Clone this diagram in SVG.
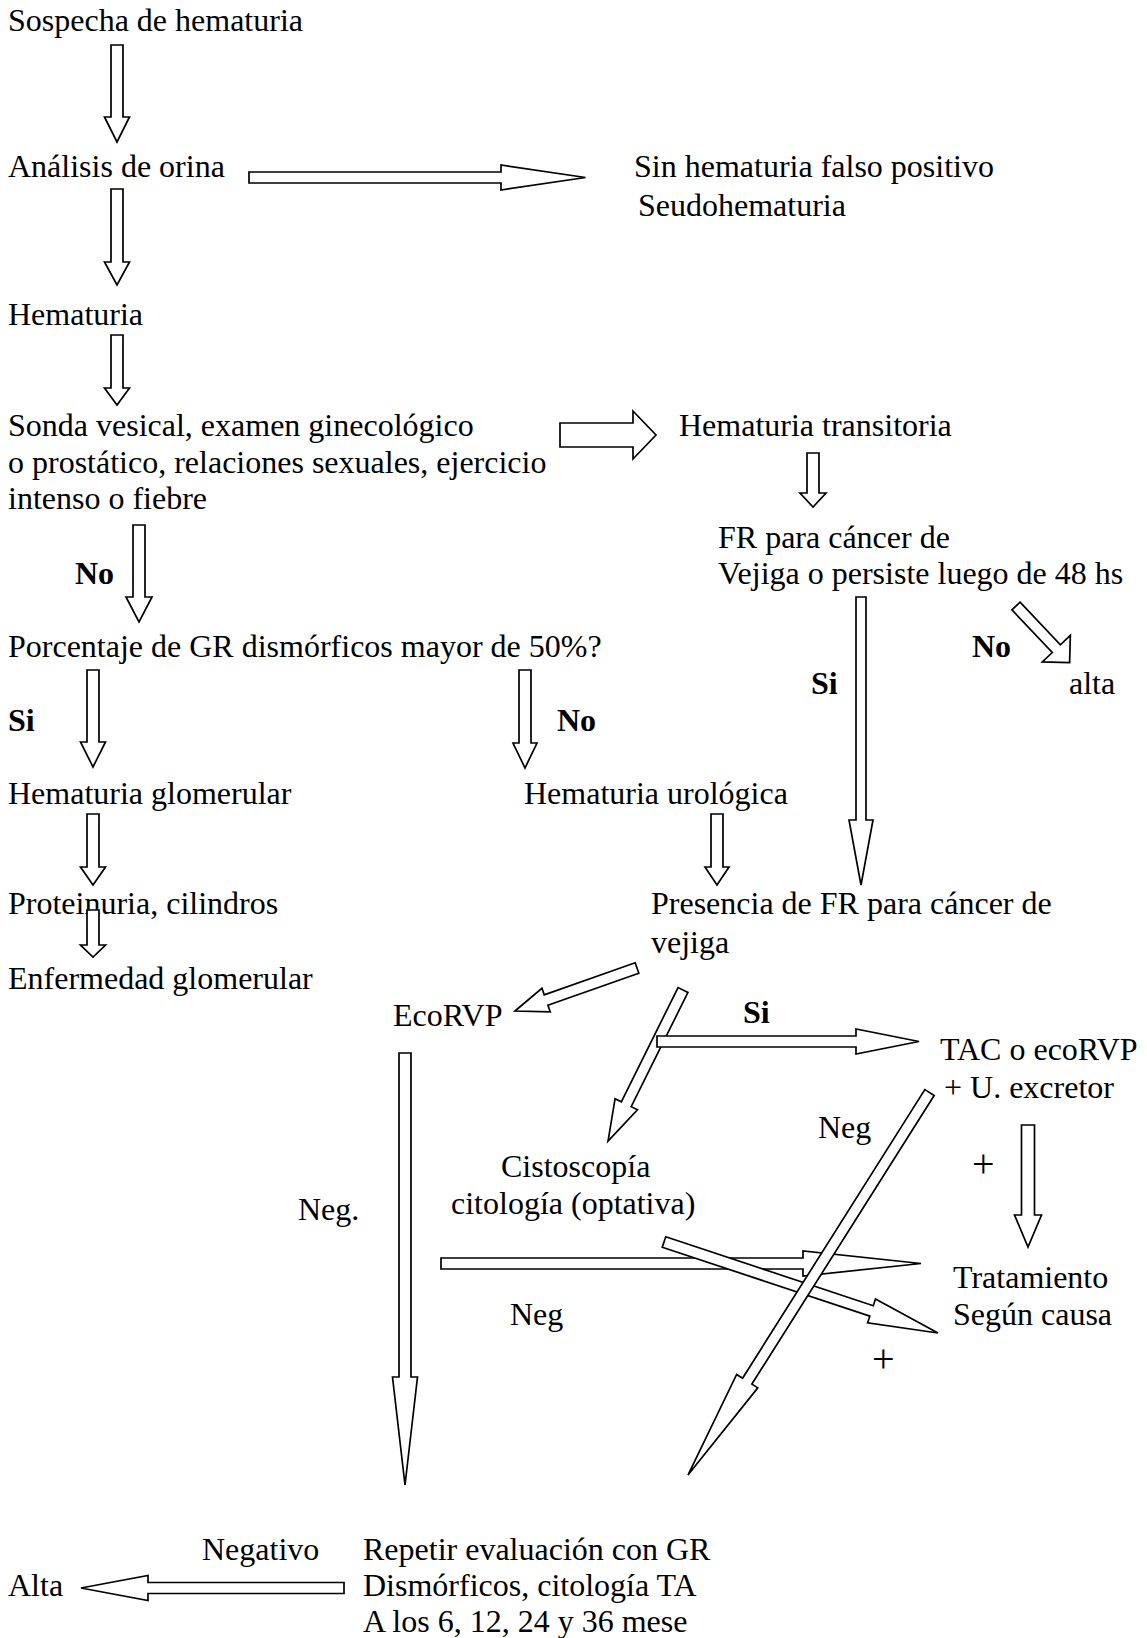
<svg xmlns="http://www.w3.org/2000/svg" width="1147" height="1638" viewBox="0 0 1147 1638">
<style>
text{font-family:"Liberation Serif","Times New Roman",serif;font-size:32px;fill:#000}
.b{font-weight:bold}
.p{font-size:40px}
.ar{fill:#fff;stroke:#000;stroke-width:1.7;stroke-linejoin:miter}
</style>
<rect width="1147" height="1638" fill="#fff"/>
<g id="nodes">
<g id="n-sospecha"><text x="8" y="31">Sospecha de hematuria</text></g>
<g id="n-analisis"><text x="8" y="177">Análisis de orina</text></g>
<g id="n-sin"><text x="634" y="177">Sin hematuria falso positivo</text><text x="638" y="216">Seudohematuria</text></g>
<g id="n-hematuria"><text x="8" y="325">Hematuria</text></g>
<g id="n-sonda"><text x="8" y="436">Sonda vesical, examen ginecológico</text><text x="8" y="473">o prostático, relaciones sexuales, ejercicio</text><text x="8" y="509">intenso o fiebre</text></g>
<g id="n-transitoria"><text x="679" y="436">Hematuria transitoria</text></g>
<g id="n-fr"><text x="718" y="548">FR para cáncer de</text><text x="718" y="584">Vejiga o persiste luego de 48 hs</text></g>
<g id="n-alta1"><text x="1069" y="694">alta</text></g>
<g id="n-porcentaje"><text x="8" y="657">Porcentaje de GR dismórficos mayor de 50%?</text></g>
<g id="n-glomerular"><text x="8" y="804">Hematuria glomerular</text></g>
<g id="n-urologica"><text x="524" y="804">Hematuria urológica</text></g>
<g id="n-proteinuria"><text x="8" y="914">Proteinuria, cilindros</text></g>
<g id="n-presencia"><text x="651" y="914">Presencia de FR para cáncer de</text><text x="651" y="953">vejiga</text></g>
<g id="n-enfermedad"><text x="8" y="989">Enfermedad glomerular</text></g>
<g id="n-ecorvp"><text x="393" y="1026">EcoRVP</text></g>
<g id="n-tac"><text x="940" y="1060">TAC o ecoRVP</text><text x="944" y="1098">+ U. excretor</text></g>
<g id="n-cisto"><text x="501" y="1177">Cistoscopía</text><text x="451" y="1214">citología (optativa)</text></g>
<g id="n-tratamiento"><text x="953" y="1288">Tratamiento</text><text x="953" y="1325">Según causa</text></g>
<g id="n-repetir"><text x="363" y="1560">Repetir evaluación con GR</text><text x="363" y="1596">Dismórficos, citología TA</text><text x="363" y="1632">A los 6, 12, 24 y 36 mese</text></g>
<g id="n-alta2"><text x="8" y="1596">Alta</text></g>
</g>
<g id="connectors">
<polygon class="ar" points="111,45 123,45 123,117 129.5,117 117,142 104.5,117 111,117"/>
<polygon class="ar" points="111,189 123,189 123,262 129.5,262 117,285 104.5,262 111,262"/>
<polygon class="ar" points="111,335 123,335 123,388 129.5,388 117,405 104.5,388 111,388"/>
<polygon class="ar" points="249,172 501,172 501,165 585.5,177.5 501,190 501,183 249,183"/>
<polygon class="ar" points="560,423 633,423 633,411 656,435 633,459 633,447 560,447"/>
<polygon class="ar" points="807,453 819,453 819,493 826,493 813,507 800,493 807,493"/>
<polygon class="ar" points="133,525 145,525 145,597 152,597 139,622 126,597 133,597"/>
<polygon class="ar" points="856,597 866,597 866,820 873,820 861,885 849,820 856,820"/>
<polygon class="ar" transform="translate(1016,606) rotate(46.6)" points="0,-5.6 58.7,-5.6 58.7,-19.3 78,0 58.7,19.3 58.7,5.6 0,5.6"/>
<polygon class="ar" points="87,670 99,670 99,742 105.5,742 93,767 80.5,742 87,742"/>
<polygon class="ar" points="519,670 531,670 531,743 537,743 525,768 513,743 519,743"/>
<polygon class="ar" points="87,814 99,814 99,867 105.5,867 93,885 80.5,867 87,867"/>
<polygon class="ar" points="87,910 99,910 99,945 105.5,945 93,957 80.5,945 87,945"/>
<polygon class="ar" points="711,814 723,814 723,867 729,867 717,885 705,867 711,867"/>
<polygon class="ar" transform="translate(637,968) rotate(160.58)" points="0,-5.5 96.4,-5.5 96.4,-12.5 129.4,0 96.4,12.5 96.4,5.5 0,5.5"/>
<polygon class="ar" transform="translate(683,990) rotate(116.4)" points="0,-5.5 127.6,-5.5 127.6,-12.5 168.6,0 127.6,12.5 127.6,5.5 0,5.5"/>
<polygon class="ar" points="657,1036 856,1036 856,1029 919,1041.5 856,1054 856,1047 657,1047"/>
<polygon class="ar" points="1021.5,1125 1034.5,1125 1034.5,1215 1041.5,1215 1028,1247 1014.5,1215 1021.5,1215"/>
<polygon class="ar" points="399,1053 411,1053 411,1377 417.5,1377 405,1485 392.5,1377 399,1377"/>
<polygon class="ar" points="441,1258 803,1258 803,1251 921,1263.5 803,1276 803,1269 441,1269"/>
<polygon class="ar" transform="translate(664,1242) rotate(18.37)" points="0,-5.5 218.7,-5.5 218.7,-12.5 288.7,0 218.7,12.5 218.7,5.5 0,5.5"/>
<polygon class="ar" transform="translate(929.5,1092.5) rotate(122.27)" points="0,-5.5 341.4,-5.5 341.4,-12.5 452.4,0 341.4,12.5 341.4,5.5 0,5.5"/>
<polygon class="ar" points="344,1582.5 148,1582.5 148,1575.5 81,1588 148,1600.5 148,1593.5 344,1593.5"/>
<g id="labels">
<text class="b" x="75" y="584">No</text>
<text class="b" x="8" y="731">Si</text>
<text class="b" x="557" y="731">No</text>
<text class="b" x="811" y="694">Si</text>
<text class="b" x="972" y="657">No</text>
<text class="b" x="743" y="1023">Si</text>
<text x="818" y="1138">Neg</text>
<text class="p" x="972" y="1177">+</text>
<text x="298" y="1220">Neg.</text>
<text x="510" y="1325">Neg</text>
<text class="p" x="872" y="1372">+</text>
<text x="202" y="1560">Negativo</text>
</g>
</g>
</svg>
